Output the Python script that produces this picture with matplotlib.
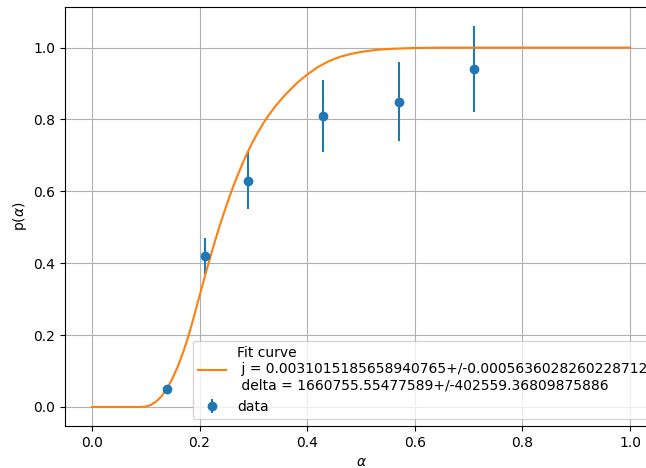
import numpy as np
import matplotlib
matplotlib.use("Agg")
import matplotlib.pyplot as plt

# Measured success probability with uncertainties
alpha_data = [0.14, 0.21, 0.29, 0.43, 0.57, 0.71]
p_data = [0.05, 0.42, 0.63, 0.81, 0.85, 0.94]
p_err = [0.01, 0.05, 0.08, 0.10, 0.11, 0.12]

# Fitted curve sampled along alpha
alpha_fit = [0.00, 0.05, 0.09, 0.10, 0.11, 0.12, 0.13, 0.14, 0.15, 0.16, 0.17,
             0.18, 0.19, 0.20, 0.21, 0.22, 0.23, 0.24, 0.25, 0.26, 0.27, 0.28,
             0.29, 0.30, 0.31, 0.32, 0.33, 0.34, 0.35, 0.36, 0.37, 0.38, 0.39,
             0.40, 0.42, 0.44, 0.46, 0.48, 0.50, 0.53, 0.56, 0.60, 0.65, 0.70,
             0.80, 0.90, 1.00]
p_fit = [0.000, 0.000, 0.000, 0.001, 0.006, 0.016, 0.031, 0.052, 0.080, 0.114,
         0.154, 0.200, 0.254, 0.309, 0.364, 0.417, 0.468, 0.516, 0.561, 0.603,
         0.642, 0.678, 0.711, 0.741, 0.768, 0.793, 0.815, 0.835, 0.853, 0.870,
         0.885, 0.900, 0.913, 0.925, 0.946, 0.962, 0.974, 0.982, 0.988, 0.994,
         0.997, 0.999, 1.000, 1.000, 1.000, 1.000, 1.000]

# Fit parameters with their uncertainties
j_val, j_err = "0.0031015185658940765", "0.0005636028260228712"
delta_val, delta_err = "1660755.55477589", "402559.36809875886"
fit_label = f"Fit curve\n j = {j_val}+/-{j_err}\n delta = {delta_val}+/-{delta_err}"

fig = plt.figure(figsize=(6.46, 4.68), dpi=100)
ax = fig.add_axes([0.1006, 0.0897, 0.9164, 0.8953])

ax.errorbar(alpha_data, p_data, yerr=p_err, fmt="o", color="C0", label="data")
ax.plot(alpha_fit, p_fit, color="C1", label=fit_label)

ax.set_xlabel(r"$\alpha$")
ax.set_ylabel(r"p($\alpha$)", labelpad=3)
ax.grid(True)
ax.legend(loc="lower right", bbox_to_anchor=(1.005, 0.0))

fig.savefig("out.png", dpi=100)
